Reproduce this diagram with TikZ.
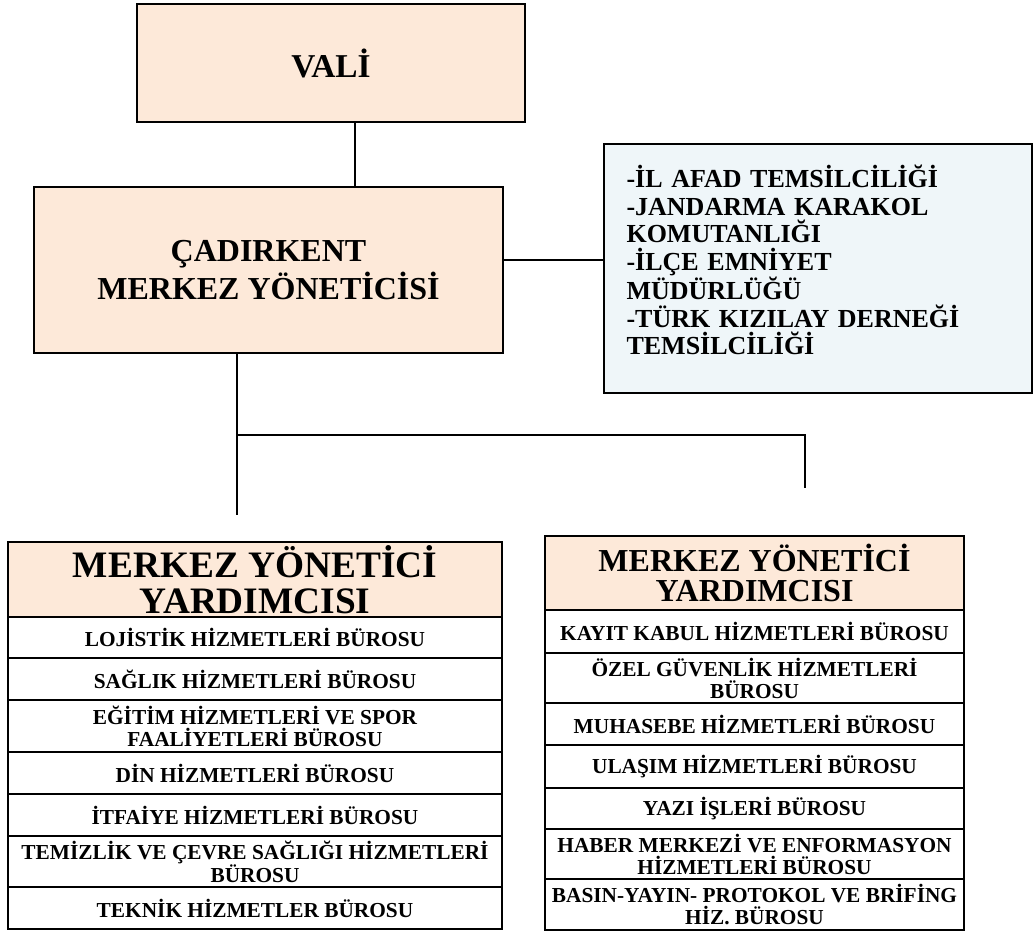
\documentclass[tikz,border=0pt]{standalone}
\usepackage{fontspec}
\setmainfont{Liberation Serif}
\definecolor{peach}{RGB}{253,233,217}
\definecolor{paleblue}{RGB}{239,246,249}
\tikzset{
	orgbox/.style={draw,line width=1.3pt,fill=peach,align=center,font=\bfseries\fontsize{24}{29}\selectfont},
	sidebox/.style={draw,line width=1.3pt,fill=paleblue,align=left,anchor=north west,inner xsep=17pt,text width=287pt,minimum height=186.75pt,font=\bfseries\fontsize{19.5}{20.6}\selectfont},
	link/.style={line width=1pt},
	cell/.style={draw,line width=1.8pt,fill=white,anchor=north,align=center,inner sep=0pt,font=\bfseries\fontsize{16}{16.3}\selectfont},
	lcell/.style={cell,minimum width=370.5pt},
	rcell/.style={cell,minimum width=314.25pt},
	lhead/.style={lcell,fill=peach,font=\bfseries\fontsize{28}{26.5}\selectfont},
	rhead/.style={rcell,fill=peach,font=\bfseries\fontsize{24}{22.5}\selectfont}
}
\begin{document}
\begin{tikzpicture}[x=0.75pt,y=-0.75pt]
\useasboundingbox (0,0) rectangle (1033,931);

\node [orgbox,minimum width=291pt,minimum height=88.5pt,font=\bfseries\fontsize{25}{29}\selectfont] (vali) at (331,63) {VALİ};
\node [orgbox,minimum width=351.75pt,minimum height=124.5pt] (merkez) at (268.5,270) {ÇADIRKENT\\MERKEZ YÖNETİCİSİ};
\node [sidebox] (kurum) at (603,143) {-İL AFAD TEMSİLCİLİĞİ\\-JANDARMA KARAKOL\\KOMUTANLIĞI\\-İLÇE EMNİYET\\MÜDÜRLÜĞÜ\\-TÜRK KIZILAY DERNEĞİ\\TEMSİLCİLİĞİ\\[-8pt]\mbox{}};

\coordinate (vx) at (355,0);
\coordinate (hy) at (0,260);
\coordinate (jl) at (237,435);
\coordinate (jr) at (805,435);
\coordinate (le) at (237,515);
\coordinate (re) at (805,488);

\draw [link] (vali.south -| vx) -- (merkez.north -| vx);
\draw [link] (merkez.east |- hy) -- (kurum.west |- hy);
\draw [link] (merkez.south -| jl) -- (le);
\draw [link] (jl) -- (jr) -- (re);

% sol tablo
\node [lhead,minimum height=56.25pt] (lbas) at (255,541) {MERKEZ YÖNETİCİ\\YARDIMCISI};
\node [lcell,minimum height=30.75pt] (lojistik) at (255,616) {LOJİSTİK HİZMETLERİ BÜROSU};
\node [lcell,minimum height=31.5pt] (saglik) at (255,657) {SAĞLIK HİZMETLERİ BÜROSU};
\node [lcell,minimum height=39pt] (egitim) at (255,699) {EĞİTİM HİZMETLERİ VE SPOR\\FAALİYETLERİ BÜROSU};
\node [lcell,minimum height=31.5pt] (din) at (255,751) {DİN HİZMETLERİ BÜROSU};
\node [lcell,minimum height=31.5pt] (itfaiye) at (255,793) {İTFAİYE HİZMETLERİ BÜROSU};
\node [lcell,minimum height=38.25pt] (temizlik) at (255,835) {TEMİZLİK VE ÇEVRE SAĞLIĞI HİZMETLERİ\\BÜROSU};
\node [lcell,minimum height=31.5pt] (teknik) at (255,886) {TEKNİK HİZMETLER BÜROSU};

% sag tablo
\node [rhead,minimum height=55.5pt] (rbas) at (754.5,535) {MERKEZ YÖNETİCİ\\YARDIMCISI};
\node [rcell,minimum height=32.25pt] (kayit) at (754.5,609) {KAYIT KABUL HİZMETLERİ BÜROSU};
\node [rcell,minimum height=37.5pt] (guvenlik) at (754.5,652) {ÖZEL GÜVENLİK HİZMETLERİ\\BÜROSU};
\node [rcell,minimum height=31.5pt] (muhasebe) at (754.5,702) {MUHASEBE HİZMETLERİ BÜROSU};
\node [rcell,minimum height=32.25pt] (ulasim) at (754.5,744) {ULAŞIM HİZMETLERİ BÜROSU};
\node [rcell,minimum height=30.75pt] (yazi) at (754.5,787) {YAZI İŞLERİ BÜROSU};
\node [rcell,minimum height=37.5pt] (haber) at (754.5,828) {HABER MERKEZİ VE ENFORMASYON\\HİZMETLERİ BÜROSU};
\node [rcell,minimum height=38.25pt] (basin) at (754.5,878) {BASIN-YAYIN- PROTOKOL VE BRİFİNG\\HİZ. BÜROSU};
\end{tikzpicture}
\end{document}
